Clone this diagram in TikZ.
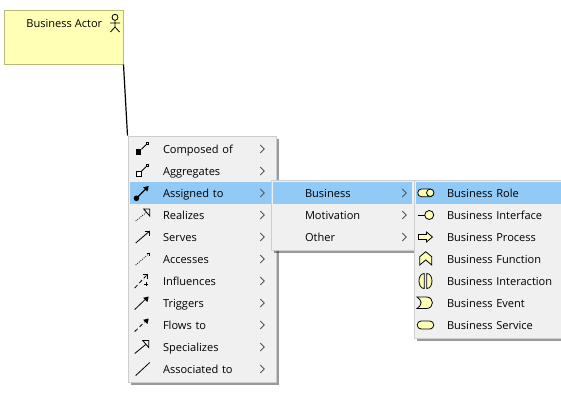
\documentclass[tikz,border=0pt]{standalone}
\usepackage{fontspec}
\setmainfont{Open Sans}
\usetikzlibrary{matrix,positioning,shadows}
\definecolor{noteyellow}{HTML}{FFFFB5}
\definecolor{noteedge}{HTML}{B9B97C}
\definecolor{menubg}{HTML}{F0F0F0}
\definecolor{menuedge}{HTML}{CDCDCD}
\definecolor{menusel}{HTML}{91C9F7}
\definecolor{chevcol}{HTML}{555555}
\tikzset{
  x=.75pt,y=-.75pt,
  line/.style={line width=.6pt,black},
  ico/.style={line width=.6pt,black,fill=noteyellow},
  menubox/.style={draw=menuedge,line width=.75pt,fill=menubg,inner sep=0pt,
    drop shadow={shadow xshift=2pt,shadow yshift=-2pt,fill=black,opacity=.4}},
  menuitem/.style={inner sep=0pt,text height=11.4pt,text depth=5.1pt,font=\fontsize{8.3}{10}\selectfont,
    text width=#1,align=left},
  menu/.style={matrix of nodes,inner sep=0pt,row sep=0pt,nodes={menuitem=#1}},
  chev/.style={line width=.6pt,chevcol},
  % relation icons
  composedicon/.pic={\draw[line] (-1.3,.3) -- (3.3,-4.3);
    \fill (-6.7,.3) rectangle (-1.3,5.7); \draw[line,fill=white] (3.3,-6.7) rectangle (5.7,-4.3);},
  aggregicon/.pic={\draw[line] (-1.3,.3) -- (3.3,-4.3);
    \draw[line,fill=white] (-6.7,.3) rectangle (-1.3,5.7); \draw[line,fill=white] (3.3,-6.7) rectangle (5.7,-4.3);},
  assignicon/.pic={\draw[line,line width=.9pt] (-6.3,5.3) -- (3,-4); \fill (-6.3,5.3) circle (2.8);
    \fill (6,-7) -- (4.7,-1.5) -- (.5,-5.7) -- cycle;},
  realizeicon/.pic={\draw[line,densely dotted] (-7,6) -- (3.5,-2.5);
    \draw[line] (7,-6) -- (1,-6) -- (7,1) -- cycle;},
  serveicon/.pic={\draw[line] (-7,6) -- (7,-6); \draw[line] (2,-6) -- (7,-6) -- (7,-1);},
  accessicon/.pic={\draw[line,densely dotted] (-7,6) -- (7,-6); \draw[line] (4,-6) -- (7,-6) -- (7,-3);},
  influenceicon/.pic={\draw[line,densely dashed] (-8,7) -- (5,-7); \draw[line] (.5,-7) -- (5,-7) -- (5,-2.5);
    \draw[line] (1.7,3.3) -- (5.7,3.3) (3.7,1.3) -- (3.7,5.3);},
  triggericon/.pic={\draw[line] (-8,6.5) -- (3,-4); \fill (6,-6.5) -- (4.7,-1) -- (.5,-5.2) -- cycle;},
  flowicon/.pic={\draw[line,densely dashed] (-8,6.5) -- (3,-4); \fill (6,-6.5) -- (4.7,-1) -- (.5,-5.2) -- cycle;},
  specialicon/.pic={\draw[line] (-8,6.5) -- (3,-2.5); \draw[line] (6,-6.5) -- (0,-6.5) -- (6,.5) -- cycle;},
  associcon/.pic={\draw[line] (-7,6.5) -- (7,-6.5);},
  % element icons
  roleicon/.pic={\draw[ico,rounded corners=2.8pt] (-8,-4) rectangle (8,3.7);
    \draw[ico] (4.5,-.2) circle (3.7);},
  interfaceicon/.pic={\draw[line] (-8,0) -- (-1,0); \draw[ico] (3.5,0) circle (4.5);},
  processicon/.pic={\draw[ico] (-7.3,-2.5) -- (.7,-2.5) -- (.7,-5) -- (6.7,0) -- (.7,5) -- (.7,2.5) -- (-7.3,2.5) -- cycle;},
  functionicon/.pic={\draw[ico] (-6,-2.3) -- (0,-7.3) -- (6,-2.3) -- (6,6) -- (0,1) -- (-6,6) -- cycle;},
  interacticon/.pic={\draw[ico] (-1.5,-7.5) .. controls (-8.5,-7.5) and (-8.5,7.5) .. (-1.5,7.5) -- cycle;
    \draw[ico] (1,-7.5) .. controls (8,-7.5) and (8,7.5) .. (1,7.5) -- cycle;},
  eventicon/.pic={\draw[ico] (-8.7,-6) -- (.7,-6) .. controls (8.7,-6) and (8.7,5.5) .. (.7,5.5) -- (-8.7,5.5) .. controls (-3.3,2) and (-3.3,-2.5) .. (-8.7,-6) -- cycle;},
  serviceicon/.pic={\draw[ico,rounded corners=2.9pt] (-8.5,-4) rectangle (8,4);},
  chevron/.pic={\draw[chev] (-2,-4) -- (2,0) -- (-2,4);}
}
\begin{document}
\begin{tikzpicture}
  \useasboundingbox (0,0) rectangle (561,400);
  \clip (0,0) rectangle (561,400);

  \node (actor) [draw=noteedge,line width=.75pt,fill=noteyellow,inner sep=0pt,minimum width=89.25pt,minimum height=40.5pt] at (63.5,37) {};
  \node (actorlabel) [anchor=east,inner sep=0pt,font=\fontsize{8.3}{10}\selectfont] at (102.5,23) {Business Actor};
  \draw[line] (115,17.3) circle (3) (115,20.3) -- (115,27) (110,23) -- (120,23) (110.5,32) -- (115,27) -- (119.5,32);

  \node (relbox) [menubox,minimum width=111pt,minimum height=184.5pt] at (202,259) {};
  \draw[line width=.9pt] (actor.south east) -- (relbox.north west);
  \matrix (rel) [menu=106.5pt,row 3/.style={nodes={fill=menusel}}] at (201,259)
  { \hspace*{24.75pt}Composed of \\
    \hspace*{24.75pt}Aggregates \\
    \hspace*{24.75pt}Assigned to \\
    \hspace*{24.75pt}Realizes \\
    \hspace*{24.75pt}Serves \\
    \hspace*{24.75pt}Accesses \\
    \hspace*{24.75pt}Influences \\
    \hspace*{24.75pt}Triggers \\
    \hspace*{24.75pt}Flows to \\
    \hspace*{24.75pt}Specializes \\
    \hspace*{24.75pt}Associated to \\
  };
  \foreach \i/\ic in {1/composedicon,2/aggregicon,3/assignicon,4/realizeicon,5/serveicon,6/accessicon,
      7/influenceicon,8/triggericon,9/flowicon,10/specialicon,11/associcon}
  {
    \pic at ([xshift=9.75pt]rel-\i-1.west) {\ic};
    \pic at ([xshift=-7.5pt]rel-\i-1.east) {chevron};
  }

  \node (layerbox) [menubox,minimum width=107.25pt,minimum height=52.5pt] at (342.5,215) {};
  \matrix (layer) [menu=104.25pt,row 1/.style={nodes={fill=menusel}}] at (342.5,215)
  { \hspace*{24pt}Business \\
    \hspace*{24pt}Motivation \\
    \hspace*{24pt}Other \\
  };
  \foreach \i in {1,2,3}
    \pic at ([xshift=-6pt]layer-\i-1.east) {chevron};

  \node (elembox) [menubox,minimum width=113.25pt,minimum height=118.5pt] at (489.5,259) {};
  \matrix (elem) [menu=110.25pt,row 1/.style={nodes={fill=menusel}}] at (489.5,259)
  { \hspace*{23.25pt}Business Role \\
    \hspace*{23.25pt}Business Interface \\
    \hspace*{23.25pt}Business Process \\
    \hspace*{23.25pt}Business Function \\
    \hspace*{23.25pt}Business Interaction \\
    \hspace*{23.25pt}Business Event \\
    \hspace*{23.25pt}Business Service \\
  };
  \foreach \i/\ic in {1/roleicon,2/interfaceicon,3/processicon,4/functionicon,5/interacticon,6/eventicon,7/serviceicon}
    \pic at ([xshift=7.5pt]elem-\i-1.west) {\ic};
\end{tikzpicture}
\end{document}
